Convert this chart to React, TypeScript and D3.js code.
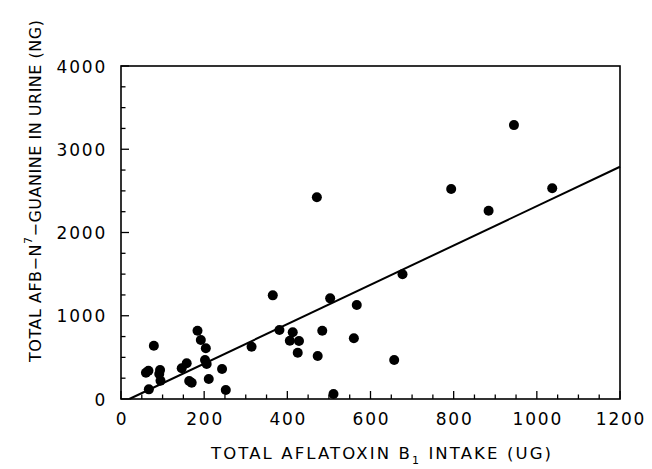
import React from "react";
import * as d3 from "d3";

// Total aflatoxin B1 intake (ug)
const intake = [
  60, 66, 67, 79, 94, 92, 95, 146, 158, 164, 170, 184, 192, 204, 202, 206, 211,
  243, 252, 314, 365, 381, 413, 406, 428, 425, 471, 473, 484, 503, 511, 560,
  567, 657, 677, 794, 884, 945, 1037,
];
// Total AFB-N7-guanine in urine (ng)
const guanine = [
  316, 340, 116, 640, 348, 300, 220, 369, 429, 216, 196, 820, 709, 609, 468,
  420, 240, 360, 108, 628, 1245, 829, 801, 700, 697, 556, 2423, 517, 820, 1209,
  60, 729, 1129, 468, 1498, 2522, 2262, 3290, 2531,
];
// Regression line endpoints
const fitX = [20, 1200];
const fitY = [0, 2790];

const xTicks = [0, 200, 400, 600, 800, 1000, 1200];
const yTicks = [0, 1000, 2000, 3000, 4000];
const xMinor = d3.range(0, 1201, 50);
const yMinor = d3.range(0, 4001, 250);

const W = 652;
const H = 469;
const left = 121;
const right = 620;
const top = 66;
const bottom = 399;

export default function App() {
  const x = d3.scaleLinear().domain([0, 1200]).range([left, right]);
  const y = d3.scaleLinear().domain([0, 4000]).range([bottom, top]);
  const line = d3
    .line<number>()
    .x((d) => x(fitX[d]))
    .y((d) => y(fitY[d]));
  const font = "'DejaVu Sans', sans-serif";
  return (
    <svg
      width={W}
      height={H}
      style={{ position: "absolute", left: 0, top: 0, background: "#fff" }}
      fontFamily={font}
    >
      <rect x={0} y={0} width={W} height={H} fill="#fff" />
      {/* frame */}
      <rect
        x={left}
        y={top}
        width={right - left}
        height={bottom - top}
        fill="none"
        stroke="#000"
        strokeWidth={1.6}
      />
      {/* x ticks */}
      {xMinor.map((v) => {
        const major = v % 200 === 0;
        return (
          <line
            key={"xt" + v}
            x1={x(v)}
            x2={x(v)}
            y1={bottom}
            y2={bottom - (major ? 8 : 4.5)}
            stroke="#000"
            strokeWidth={1.3}
          />
        );
      })}
      {/* y ticks */}
      {yMinor.map((v) => {
        const major = v % 1000 === 0;
        return (
          <line
            key={"yt" + v}
            x1={left}
            x2={left + (major ? 8 : 4.5)}
            y1={y(v)}
            y2={y(v)}
            stroke="#000"
            strokeWidth={1.3}
          />
        );
      })}
      {/* tick labels */}
      {xTicks.map((v) => (
        <text
          key={"xl" + v}
          x={x(v) + 1}
          y={425}
          textAnchor="middle"
          fontSize={17}
          letterSpacing={1.8}
          fill="#000"
        >
          {v}
        </text>
      ))}
      {yTicks.map((v) => (
        <text
          key={"yl" + v}
          x={107}
          y={y(v) + 6.5}
          textAnchor="end"
          fontSize={17}
          letterSpacing={1.8}
          fill="#000"
        >
          {v}
        </text>
      ))}
      {/* regression line */}
      <path
        d={line([0, 1]) || ""}
        fill="none"
        stroke="#000"
        strokeWidth={2}
      />
      {/* points */}
      {intake.map((v, i) => (
        <circle key={"p" + i} cx={x(v)} cy={y(guanine[i])} r={5} fill="#000" />
      ))}
      {/* x title */}
      <text
        x={211}
        y={459}
        fontSize={16.5}
        textLength={340}
        lengthAdjust="spacing"
        fill="#000"
      >
        TOTAL AFLATOXIN B
        <tspan fontSize={11} dy={5}>
          1
        </tspan>
        <tspan dy={-5}> INTAKE (UG)</tspan>
      </text>
      {/* y title */}
      <text
        transform={`translate(41,362) rotate(-90)`}
        fontSize={16}
        textLength={342}
        lengthAdjust="spacing"
        fill="#000"
      >
        TOTAL AFB−N
        <tspan fontSize={11} dy={-9}>
          7
        </tspan>
        <tspan dy={9}>−GUANINE IN URINE (NG)</tspan>
      </text>
    </svg>
  );
}
